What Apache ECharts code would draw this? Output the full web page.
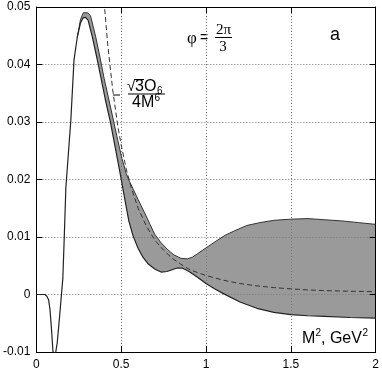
<!DOCTYPE html>
<html>
<head>
<meta charset="utf-8">
<script src="https://cdn.jsdelivr.net/npm/echarts@6/dist/echarts.min.js"></script>
<style>
html, body { margin: 0; padding: 0; background: #fff; }
#chart { width: 382px; height: 371px; }
</style>
</head>
<body>
<div id="chart"></div>
<script>
// axis ticks
const xTicks = [0, 0.5, 1, 1.5, 2];
const yTicks = [-0.01, 0, 0.01, 0.02, 0.03, 0.04, 0.05];

// lower edge of the band (and the single curve left of the peak), [M^2, value]
const lowerEdge = [
    [0, 0], [0.05, 0], [0.062, -0.0003], [0.072, -0.0009], [0.08, -0.0025],
    [0.088, -0.0055], [0.098, -0.0099], [0.105, -0.0106], [0.115, -0.0099],
    [0.123, -0.0084], [0.137, -0.0038], [0.148, 0], [0.156, 0.0028],
    [0.164, 0.0095], [0.174, 0.0186], [0.19, 0.025], [0.203, 0.0302],
    [0.222, 0.0408], [0.241, 0.0447], [0.26, 0.0472], [0.275, 0.0481],
    [0.29, 0.0482], [0.305, 0.0477], [0.33, 0.0448], [0.358, 0.041],
    [0.38, 0.0378], [0.406, 0.034], [0.435, 0.0302], [0.465, 0.0256],
    [0.493, 0.0212], [0.52, 0.0168], [0.545, 0.0128], [0.57, 0.0102],
    [0.6, 0.008], [0.63, 0.0064], [0.66, 0.0053], [0.7, 0.0044],
    [0.735, 0.0039], [0.77, 0.004], [0.8, 0.0043], [0.83, 0.0046],
    [0.86, 0.0046], [0.9, 0.004], [0.95, 0.003], [1.0, 0.0019],
    [1.05, 0.001], [1.1, 0.0002], [1.2, -0.0013], [1.3, -0.0024],
    [1.4, -0.0031], [1.5, -0.0035], [1.6, -0.0037], [1.7, -0.0038],
    [1.85, -0.004], [2.0, -0.0041]
];

// upper edge of the band, from where it leaves the lower curve
const upperEdge = [
    [0.241, 0.0447], [0.26, 0.0478], [0.277, 0.049], [0.302, 0.049],
    [0.319, 0.0485], [0.35, 0.0448], [0.377, 0.041], [0.4, 0.0375],
    [0.425, 0.0342], [0.455, 0.0302], [0.48, 0.0268], [0.505, 0.0236],
    [0.53, 0.021], [0.55, 0.0196], [0.571, 0.0183], [0.6, 0.0165],
    [0.638, 0.0142], [0.67, 0.0122], [0.697, 0.0105], [0.735, 0.009],
    [0.774, 0.0078], [0.81, 0.0069], [0.852, 0.0063], [0.89, 0.0062],
    [0.92, 0.0065], [0.95, 0.0071], [1.0, 0.0081], [1.06, 0.0093],
    [1.113, 0.0103], [1.17, 0.0111], [1.24, 0.012], [1.317, 0.0125],
    [1.4, 0.0129], [1.5, 0.0131], [1.6, 0.0132], [1.7, 0.013],
    [1.8, 0.0128], [1.9, 0.0125], [2.0, 0.0122]
];

// dashed -sqrt(3)O6/(4M^6) curve
const opeCurve = [
    [0.395, 0.0524], [0.42, 0.0437], [0.45, 0.0356], [0.48, 0.0293],
    [0.5, 0.026], [0.53, 0.0218], [0.56, 0.0185], [0.6, 0.015],
    [0.65, 0.0118], [0.7, 0.0094], [0.75, 0.0077], [0.8, 0.0063],
    [0.85, 0.0053], [0.9, 0.0044], [0.95, 0.0038], [1.0, 0.0033],
    [1.1, 0.0025], [1.2, 0.0019], [1.3, 0.0015], [1.4, 0.0012],
    [1.5, 0.00098], [1.6, 0.0008], [1.7, 0.00068], [1.8, 0.0006],
    [1.9, 0.00054], [2.0, 0.0005]
];

const sans = 'Liberation Sans';
const serif = 'Liberation Serif';

function drawChart() {
    var dom = document.getElementById('chart');
    var myChart = echarts.init(dom, null, { renderer: 'canvas' });

    var bandLower = lowerEdge.filter(function (p) { return p[0] >= upperEdge[0][0]; });

    var gridLine = { show: true, showMinLine: false, showMaxLine: false,
        lineStyle: { color: '#777', type: [1, 2], width: 1 } };
    var frameLine = { show: true, onZero: false, lineStyle: { color: '#000', width: 1 } };
    var tick = { show: true, inside: true, length: 6, lineStyle: { color: '#000' } };

    var option = {
        animation: false,
        backgroundColor: '#fff',
        grid: { left: 33.5, right: 4, top: 7, bottom: 19, containLabel: false },
        xAxis: [
            {
                type: 'value', position: 'bottom', min: xTicks[0], max: xTicks[xTicks.length - 1],
                interval: 0.5, axisLine: frameLine, axisTick: tick, splitLine: gridLine,
                axisLabel: { color: '#000', fontSize: 12, fontFamily: sans, margin: 7 }
            },
            {
                type: 'value', position: 'top', min: xTicks[0], max: xTicks[xTicks.length - 1],
                interval: 0.5, axisLine: frameLine, axisTick: tick,
                splitLine: { show: false }, axisLabel: { show: false }
            }
        ],
        yAxis: [
            {
                type: 'value', position: 'left', min: yTicks[0], max: yTicks[yTicks.length - 1],
                interval: 0.01, axisLine: frameLine, axisTick: tick, splitLine: gridLine,
                axisLabel: { color: '#000', fontSize: 12, fontFamily: sans, margin: 6 }
            },
            {
                type: 'value', position: 'right', min: yTicks[0], max: yTicks[yTicks.length - 1],
                interval: 0.01, axisLine: frameLine, axisTick: tick,
                splitLine: { show: false }, axisLabel: { show: false }
            }
        ],
        series: [
            {
                // grey band between the two edges
                type: 'custom',
                z: -1,
                silent: true,
                data: [[0, 0]],
                renderItem: function (params, api) {
                    var pts = upperEdge.map(function (p) { return api.coord(p); });
                    bandLower.slice().reverse().forEach(function (p) { pts.push(api.coord(p)); });
                    return { type: 'polygon', shape: { points: pts }, style: { fill: '#9a9a9a', stroke: null } };
                }
            },
            {
                type: 'line', data: opeCurve, showSymbol: false, clip: true,
                lineStyle: { color: '#333', width: 1, type: [5, 3] }
            },
            {
                type: 'line', data: upperEdge, showSymbol: false, clip: true,
                lineStyle: { color: '#333', width: 1 }
            },
            {
                type: 'line', data: lowerEdge, showSymbol: false, clip: true,
                lineStyle: { color: '#222', width: 1.2 }
            }
        ],
        graphic: [
            // phi = 2pi/3
            { type: 'text', x: 192, y: 39, style: { text: 'φ', font: '17px ' + serif, fill: '#000', align: 'center', verticalAlign: 'middle' } },
            { type: 'text', x: 204, y: 38, style: { text: '=', font: '14px ' + sans, fill: '#000', align: 'center', verticalAlign: 'middle' } },
            { type: 'text', x: 223.5, y: 30, style: { text: '2π', font: '15px ' + serif, fill: '#000', align: 'center', verticalAlign: 'middle' } },
            { type: 'line', shape: { x1: 215, y1: 37.5, x2: 232, y2: 37.5 }, style: { stroke: '#000', lineWidth: 1 } },
            { type: 'text', x: 223, y: 47, style: { text: '3', font: '15px ' + serif, fill: '#000', align: 'center', verticalAlign: 'middle' } },
            { type: 'text', x: 335, y: 35, style: { text: 'a', font: '18px ' + sans, fill: '#000', align: 'center', verticalAlign: 'middle' } },
            // - sqrt(3) O6 / 4M^6
            { type: 'line', shape: { x1: 113, y1: 95, x2: 120, y2: 95 }, style: { stroke: '#000', lineWidth: 1 } },
            { type: 'text', x: 127, y: 87, style: { text: '√', font: '15px ' + sans, fill: '#000', align: 'left', verticalAlign: 'middle' } },
            { type: 'line', shape: { x1: 135, y1: 79.5, x2: 144, y2: 79.5 }, style: { stroke: '#000', lineWidth: 1 } },
            { type: 'text', x: 135, y: 87, style: { text: '3O', font: '16px ' + sans, fill: '#000', align: 'left', verticalAlign: 'middle' } },
            { type: 'text', x: 157, y: 91, style: { text: '6', font: '10px ' + sans, fill: '#000', align: 'left', verticalAlign: 'middle' } },
            { type: 'line', shape: { x1: 128, y1: 94, x2: 165, y2: 94 }, style: { stroke: '#000', lineWidth: 1 } },
            { type: 'text', x: 132, y: 102.5, style: { text: '4M', font: '16px ' + sans, fill: '#000', align: 'left', verticalAlign: 'middle' } },
            { type: 'text', x: 154.5, y: 98, style: { text: '6', font: '10px ' + sans, fill: '#000', align: 'left', verticalAlign: 'middle' } },
            // axis title
            { type: 'text', x: 302, y: 339, style: { text: 'M', font: '16px ' + sans, fill: '#000', align: 'left', verticalAlign: 'middle' } },
            { type: 'text', x: 315.5, y: 333, style: { text: '2', font: '10px ' + sans, fill: '#000', align: 'left', verticalAlign: 'middle' } },
            { type: 'text', x: 321, y: 339, style: { text: ', GeV', font: '16px ' + sans, fill: '#000', align: 'left', verticalAlign: 'middle' } },
            { type: 'text', x: 362.5, y: 333, style: { text: '2', font: '10px ' + sans, fill: '#000', align: 'left', verticalAlign: 'middle' } }
        ]
    };

    myChart.setOption(option);
    window.addEventListener('resize', myChart.resize);
}

drawChart();
</script>
</body>
</html>
